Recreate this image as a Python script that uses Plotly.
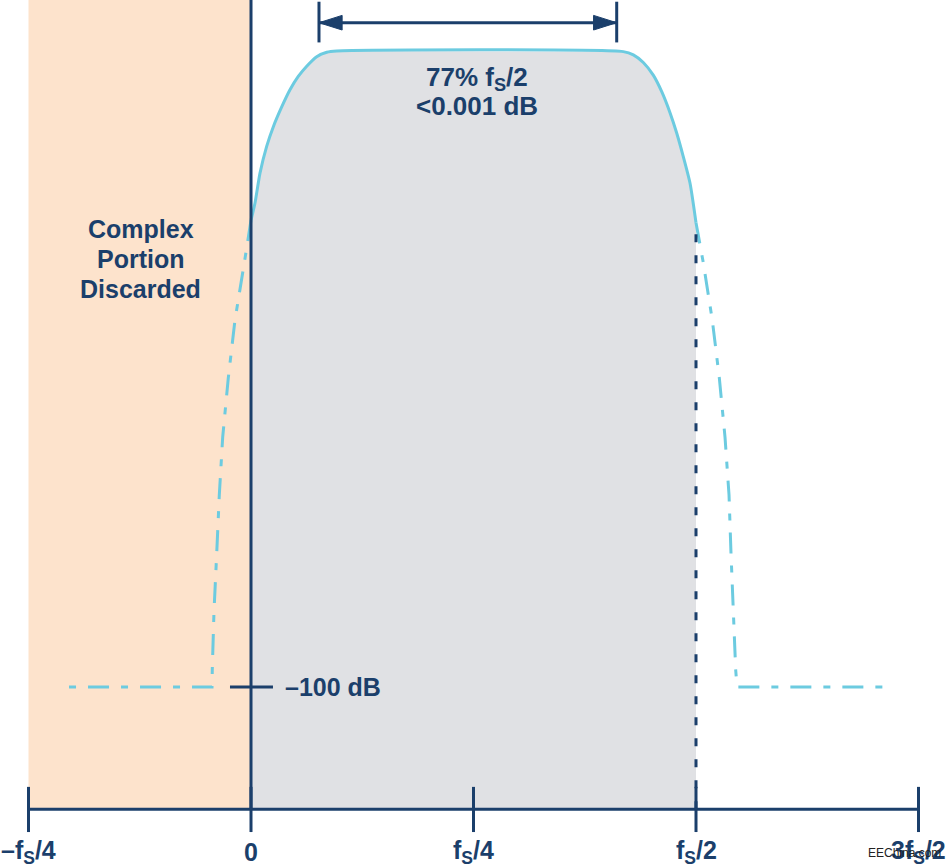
import plotly.graph_objects as go

# ---------------- data (frequency in units of fs, level in dB) ----------------
tick_vals = [-0.25, 0.0, 0.25, 0.5, 0.75]
tick_text = ["–f<sub>S</sub>/4", "0", "f<sub>S</sub>/4", "f<sub>S</sub>/2", "3f<sub>S</sub>/2"]

pass_freq = [0.0, 0.0045, 0.0101, 0.0176, 0.0251, 0.0345, 0.0438, 0.0531, 0.0626,
             0.0738, 0.0851, 0.0963, 0.4183, 0.4296, 0.4408, 0.4520, 0.4615,
             0.4708, 0.4783, 0.4857, 0.4933, 0.5]
pass_db = [-26.6, -23.9, -19.2, -15.0, -11.9, -8.8, -6.1, -4.0, -2.4,
           -0.9, -0.2, 0.0, -0.1, -0.6, -1.8, -3.8, -6.4,
           -9.7, -12.9, -16.6, -20.8, -27.0]

left_stop_freq = [0.0, -0.003, -0.0075, -0.018, -0.0255, -0.0318, -0.0356,
                  -0.0385, -0.0416, -0.0435, -0.0438, -0.2146]
left_stop_db = [-26.6, -29.4, -33.3, -42.3, -51.4, -60.7, -69.8,
                -78.9, -88.2, -97.3, -100.0, -100.0]

right_stop_freq = [0.5, 0.5082, 0.5183, 0.5262, 0.5326, 0.5371, 0.5393,
                   0.5419, 0.5446, 0.5461, 0.7157]
right_stop_db = [-27.0, -33.3, -42.3, -51.4, -60.7, -69.8, -78.9,
                 -88.2, -97.3, -100.0, -100.0]

stop_level_db = -100.0
passband_arrow_freq = [0.0764, 0.4109]
passband_arrow_db = 4.45
axis_db = -119.2

discard_lines = ["Complex", "Portion", "Discarded"]
discard_line_db = [-28.0, -32.7, -37.4]

# ---------------- styles ----------------
NAVY = "#1b3f6b"
CYAN = "#6ccbe0"
ORANGE = "#fde3cc"
GREY = "#e0e1e4"
FONT = "Liberation Sans, Arial, Helvetica, sans-serif"

XR = [-0.28202, 0.78427]
YR = [-128.14, 8.02]

fig = go.Figure()

# grey fill under passband
fig.add_trace(go.Scatter(
    x=[pass_freq[0]] + pass_freq + [pass_freq[-1]],
    y=[axis_db] + pass_db + [axis_db],
    fill="toself", fillcolor=GREY, mode="none", hoverinfo="skip", showlegend=False))

# stopband dash-dot curves
for fx, fy in [(left_stop_freq, left_stop_db), (right_stop_freq, right_stop_db)]:
    fig.add_trace(go.Scatter(
        x=fx, y=fy, mode="lines",
        line=dict(color=CYAN, width=3, dash="21px,12px,7px,12px"),
        hoverinfo="skip", showlegend=False))

# passband solid curve
fig.add_trace(go.Scatter(
    x=pass_freq, y=pass_db, mode="lines",
    line=dict(color=CYAN, width=3, shape="spline", smoothing=0.6),
    hoverinfo="skip", showlegend=False))

shapes = []
# discarded region
shapes.append(dict(type="rect", xref="x", yref="y", x0=tick_vals[0], x1=tick_vals[1],
                   y0=axis_db, y1=YR[1] + 5, fillcolor=ORANGE, line=dict(width=0), layer="below"))
# vertical line at 0
shapes.append(dict(type="line", xref="x", yref="y", x0=0, x1=0, y0=axis_db, y1=YR[1] + 5,
                   line=dict(color=NAVY, width=3)))
# dashed at fs/2
shapes.append(dict(type="line", xref="x", yref="y", x0=0.5, x1=0.5, y0=axis_db, y1=pass_db[-1],
                   line=dict(color=NAVY, width=3, dash="8px,13px")))
# axis line
shapes.append(dict(type="line", xref="x", yref="y", x0=tick_vals[0], x1=tick_vals[-1],
                   y0=axis_db, y1=axis_db, line=dict(color=NAVY, width=3)))
# ticks
for tv in tick_vals:
    shapes.append(dict(type="line", xref="x", yref="y", x0=tv, x1=tv,
                       y0=axis_db + 3.5, y1=axis_db - 3.6, line=dict(color=NAVY, width=3)))
# -100 dB marker
shapes.append(dict(type="line", xref="x", yref="y", x0=-0.0236, x1=0.0247,
                   y0=stop_level_db, y1=stop_level_db, line=dict(color=NAVY, width=3)))
# passband arrow
a0, a1 = passband_arrow_freq
ay = passband_arrow_db
shapes.append(dict(type="line", xref="x", yref="y", x0=a0, x1=a1, y0=ay, y1=ay,
                   line=dict(color=NAVY, width=3)))
for ax in (a0, a1):
    shapes.append(dict(type="line", xref="x", yref="y", x0=ax, x1=ax, y0=ay + 3.3, y1=ay - 3.1,
                       line=dict(color=NAVY, width=3)))
hl, hh = 0.026, 1.15
shapes.append(dict(type="path", xref="x", yref="y",
                   path=f"M {a0},{ay} L {a0+hl},{ay+hh} L {a0+hl},{ay-hh} Z",
                   fillcolor=NAVY, line=dict(color=NAVY, width=1)))
shapes.append(dict(type="path", xref="x", yref="y",
                   path=f"M {a1},{ay} L {a1-hl},{ay+hh} L {a1-hl},{ay-hh} Z",
                   fillcolor=NAVY, line=dict(color=NAVY, width=1)))

annotations = []
bold = dict(family=FONT, color=NAVY, size=25, weight="bold")
bold_big = dict(family=FONT, color=NAVY, size=26, weight="bold")
annotations.append(dict(x=0.254, y=-4.25, xref="x", yref="y", text="77% f<sub>S</sub>/2",
                        showarrow=False, font=bold_big, xanchor="center", yanchor="middle"))
annotations.append(dict(x=0.254, y=-8.65, xref="x", yref="y", text="&lt;0.001 dB",
                        showarrow=False, font=bold_big, xanchor="center", yanchor="middle"))
for txt, ydb in zip(discard_lines, discard_line_db):
    annotations.append(dict(x=-0.1236, y=ydb, xref="x", yref="y", text=txt,
                            showarrow=False, font=bold, xanchor="center", yanchor="middle"))
annotations.append(dict(x=0.0393, y=stop_level_db, xref="x", yref="y", text="–100 dB",
                        showarrow=False, font=bold, xanchor="left", yanchor="middle", xshift=-3))
for tv, tt in zip(tick_vals, tick_text):
    annotations.append(dict(x=tv, y=-125.9, xref="x", yref="y", text=tt, showarrow=False,
                            font=bold, xanchor="center", yanchor="middle"))
annotations.append(dict(x=0.953, y=0.015, xref="paper", yref="paper", text="EEChina.com",
                        showarrow=False, font=dict(family=FONT, size=12, color="#222"),
                        xanchor="center", yanchor="middle"))

fig.update_layout(
    width=949, height=866, autosize=False,
    margin=dict(l=0, r=0, t=0, b=0),
    paper_bgcolor="white", plot_bgcolor="white",
    xaxis=dict(range=XR, visible=False, fixedrange=True),
    yaxis=dict(range=YR, visible=False, fixedrange=True),
    shapes=shapes, annotations=annotations, showlegend=False,
)

fig.write_html("out.html", config={"displayModeBar": False},
               post_script="document.body.style.margin='0';document.body.style.overflow='hidden';")
